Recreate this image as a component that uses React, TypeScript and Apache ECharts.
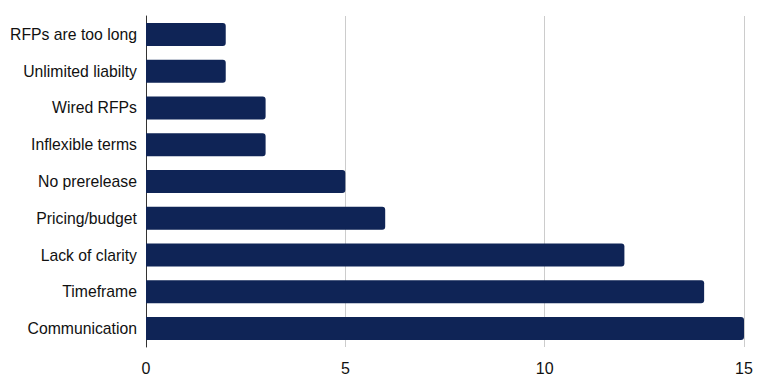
import React, { useEffect, useRef } from "react";
import * as echarts from "echarts";

const categories = [
  "RFPs are too long",
  "Unlimited liabilty",
  "Wired RFPs",
  "Inflexible terms",
  "No prerelease",
  "Pricing/budget",
  "Lack of clarity",
  "Timeframe",
  "Communication",
];
const values = [2, 2, 3, 3, 5, 6, 12, 14, 15];
const xTicks = [0, 5, 10, 15];

export default function App() {
  const ref = useRef<HTMLDivElement>(null);
  useEffect(() => {
    const chart = echarts.init(ref.current!, undefined, { renderer: "svg" });
    chart.setOption({
      animation: false,
      grid: { left: 146, right: 24, top: 16, bottom: 41, containLabel: false },
      xAxis: {
        type: "value",
        min: xTicks[0],
        max: xTicks[xTicks.length - 1],
        interval: 5,
        axisLine: { show: false },
        axisTick: { show: false },
        splitLine: { show: true, lineStyle: { color: "#cccccc", width: 1 } },
        axisLabel: {
          color: "#111",
          fontSize: 16,
          fontFamily: "Liberation Sans, Arial, sans-serif",
          margin: 13,
        },
      },
      yAxis: {
        type: "category",
        data: categories,
        inverse: true,
        axisLine: { show: true, lineStyle: { color: "#333", width: 1 } },
        axisTick: { show: false },
        axisLabel: {
          color: "#111",
          fontSize: 15.75,
          fontFamily: "Liberation Sans, Arial, sans-serif",
          margin: 9,
        },
      },
      series: [
        {
          type: "bar",
          data: values,
          barWidth: 23,
          itemStyle: { color: "#0f2456", borderRadius: [0, 3, 3, 0] },
        },
      ],
    });
    return () => chart.dispose();
  }, []);
  return <div ref={ref} style={{ width: 768, height: 388, position: "absolute", left: 0, top: 0 }} />;
}
